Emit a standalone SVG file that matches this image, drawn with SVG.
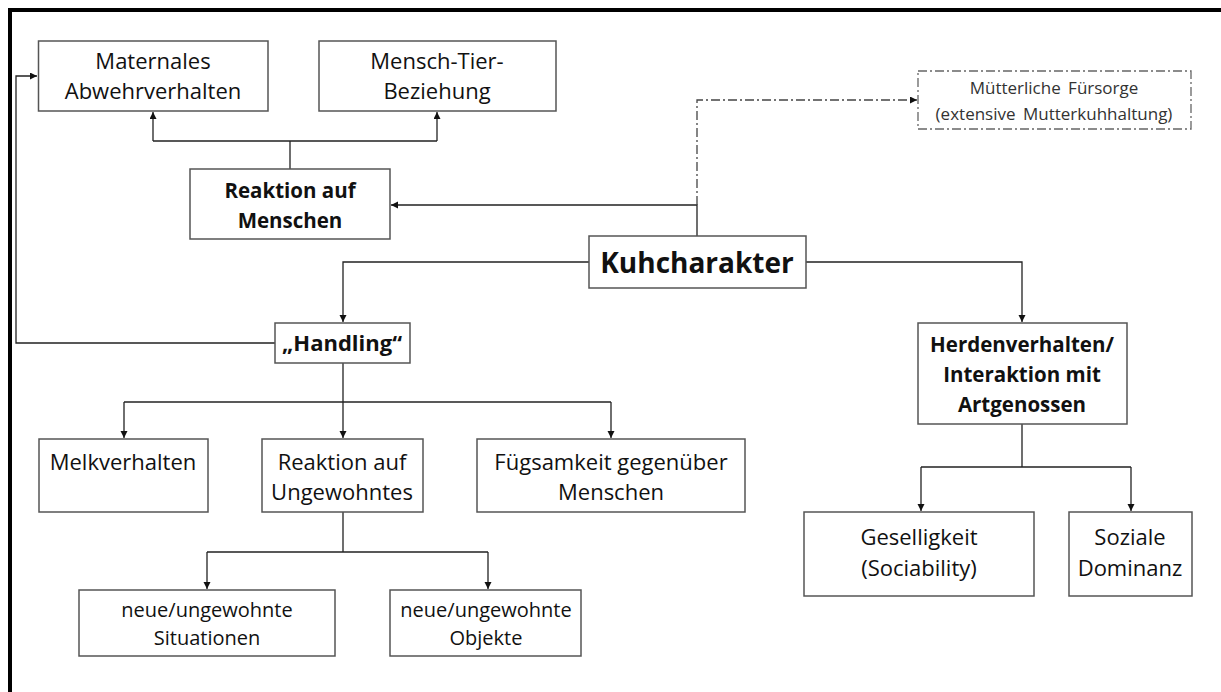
<svg xmlns="http://www.w3.org/2000/svg" width="1221" height="692" viewBox="0 0 1221 692">
<style>
.box{fill:#fff;stroke:#555;stroke-width:1.5}
.dbox{fill:#fff;stroke:#666;stroke-width:1.3;stroke-dasharray:9 3 2 3}
.t{font-family:"Open Sans","Liberation Sans",sans-serif;font-size:22px;fill:#111;text-anchor:middle}
.b{font-weight:bold;font-size:20.5px}
.s{font-size:20px}
.m{font-size:17px;fill:#333;word-spacing:3px}
.c{fill:none;stroke:#222;stroke-width:1.3}
.cd{fill:none;stroke:#444;stroke-width:1.3;stroke-dasharray:9 3 2 3}
</style>
<defs>
<marker id="ah" markerUnits="userSpaceOnUse" markerWidth="8" markerHeight="8" refX="7" refY="3.5" orient="auto">
<path d="M0,0 L7,3.5 L0,7 z" fill="#111"/>
</marker>
</defs>
<rect x="0" y="0" width="1221" height="692" fill="#fff"/>
<rect x="10" y="10" width="1300" height="800" fill="none" stroke="#000" stroke-width="4"/>

<g id="connectors">
<path class="c" d="M290,169 V141 M153,141 H437"/>
<path class="c" d="M153,141 V112" marker-end="url(#ah)"/>
<path class="c" d="M437,141 V112" marker-end="url(#ah)"/>
<path class="c" d="M697,236 V205 H391" marker-end="url(#ah)"/>
<path class="cd" d="M697,205 V100 H917" marker-end="url(#ah)"/>
<path class="c" d="M589,262 H343 V322" marker-end="url(#ah)"/>
<path class="c" d="M806,262 H1022 V322" marker-end="url(#ah)"/>
<path class="c" d="M275,343 H16 V76 H37" marker-end="url(#ah)"/>
<path class="c" d="M343,363 V438" marker-end="url(#ah)"/>
<path class="c" d="M124,402 H611"/>
<path class="c" d="M124,402 V438" marker-end="url(#ah)"/>
<path class="c" d="M611,402 V438" marker-end="url(#ah)"/>
<path class="c" d="M343,512 V552 M207,552 H488"/>
<path class="c" d="M207,552 V589" marker-end="url(#ah)"/>
<path class="c" d="M488,552 V589" marker-end="url(#ah)"/>
<path class="c" d="M1022,424 V467 M921,467 H1131"/>
<path class="c" d="M921,467 V511" marker-end="url(#ah)"/>
<path class="c" d="M1131,467 V511" marker-end="url(#ah)"/>
</g>

<g id="maternales">
<rect class="box" x="38.5" y="41" width="229.5" height="70"/>
<text class="t" x="153" y="69">Maternales</text>
<text class="t" x="153" y="99">Abwehrverhalten</text>
</g>
<g id="mensch-tier">
<rect class="box" x="319" y="41" width="237" height="70"/>
<text class="t" x="437" y="69">Mensch-Tier-</text>
<text class="t" x="437" y="99">Beziehung</text>
</g>
<g id="muetterliche">
<rect class="dbox" x="918" y="71" width="273" height="58"/>
<text class="t m" x="1054" y="94">Mütterliche Fürsorge</text>
<text class="t m" x="1054" y="120">(extensive Mutterkuhhaltung)</text>
</g>
<g id="reaktion-menschen">
<rect class="box" x="190" y="169" width="200" height="70"/>
<text class="t b" x="290" y="198">Reaktion auf</text>
<text class="t b" x="290" y="228">Menschen</text>
</g>
<g id="kuhcharakter">
<rect class="box" x="589" y="236" width="217" height="52"/>
<text class="t b" x="697" y="273" style="font-size:28px">Kuhcharakter</text>
</g>
<g id="handling">
<rect class="box" x="275" y="323" width="135" height="40"/>
<text class="t b" x="342" y="351" style="font-size:22px">„Handling“</text>
</g>
<g id="herden">
<rect class="box" x="918" y="323" width="209" height="101"/>
<text class="t b" x="1022" y="352">Herdenverhalten/</text>
<text class="t b" x="1022" y="382">Interaktion mit</text>
<text class="t b" x="1022" y="412">Artgenossen</text>
</g>
<g id="melkverhalten">
<rect class="box" x="39" y="439" width="169" height="73"/>
<text class="t" x="123" y="470">Melkverhalten</text>
</g>
<g id="reaktion-ungewohntes">
<rect class="box" x="262" y="439" width="161" height="73"/>
<text class="t" x="342" y="470">Reaktion auf</text>
<text class="t" x="342" y="500">Ungewohntes</text>
</g>
<g id="fuegsamkeit">
<rect class="box" x="477" y="439" width="268" height="73"/>
<text class="t" x="611" y="470">Fügsamkeit gegenüber</text>
<text class="t" x="611" y="500">Menschen</text>
</g>
<g id="situationen">
<rect class="box" x="79" y="590" width="256" height="66"/>
<text class="t s" x="207" y="617">neue/ungewohnte</text>
<text class="t s" x="207" y="645">Situationen</text>
</g>
<g id="objekte">
<rect class="box" x="390" y="590" width="191" height="66"/>
<text class="t s" x="486" y="617">neue/ungewohnte</text>
<text class="t s" x="486" y="645">Objekte</text>
</g>
<g id="geselligkeit">
<rect class="box" x="804" y="512" width="230" height="84"/>
<text class="t" x="919" y="545">Geselligkeit</text>
<text class="t" x="919" y="576">(Sociability)</text>
</g>
<g id="soziale">
<rect class="box" x="1069" y="512" width="123" height="84"/>
<text class="t" x="1130" y="545">Soziale</text>
<text class="t" x="1130" y="576">Dominanz</text>
</g>
</svg>
